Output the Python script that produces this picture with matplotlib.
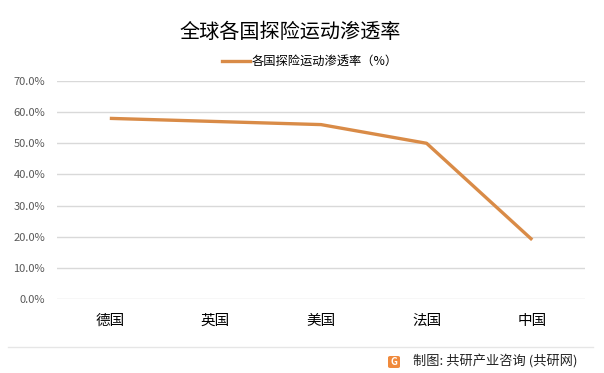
import matplotlib
matplotlib.use("Agg")
import matplotlib.pyplot as plt
from matplotlib.patches import FancyBboxPatch
from matplotlib.lines import Line2D

plt.rcParams['font.family'] = ['Noto Sans CJK SC', 'DejaVu Sans']

countries = ['德国', '英国', '美国', '法国', '中国']
rate = [0.58, 0.57, 0.56, 0.50, 0.19]
yticks = [0.0, 0.1, 0.2, 0.3, 0.4, 0.5, 0.6, 0.7]
ylabels = ['0.0%', '10.0%', '20.0%', '30.0%', '40.0%', '50.0%', '60.0%', '70.0%']
line_color = '#D98B47'

fig = plt.figure(figsize=(6.04, 3.73), dpi=100)
ax = fig.add_axes([57 / 604, 1 - 299 / 373, 528 / 604, 218 / 373])

x = range(len(countries))
ax.plot(x, rate, color=line_color, linewidth=2.4, solid_capstyle='butt', zorder=3)

ax.set_xlim(-0.5, len(countries) - 0.5)
ax.set_ylim(0, 0.7)
ax.set_yticks(yticks)
ax.set_yticklabels(ylabels, fontsize=8, color='#595959')
ax.set_xticks(list(x))
ax.set_xticklabels(countries, fontsize=10.5, color='black')
ax.tick_params(axis='both', length=0)
ax.tick_params(axis='x', pad=11)
ax.tick_params(axis='y', pad=8.5)
ax.grid(axis='y', color='#d9d9d9', linewidth=1)
ax.set_axisbelow(True)
for s in ax.spines.values():
    s.set_visible(False)

# title and legend
fig.text(290 / 604, 1 - 32 / 373, '全球各国探险运动渗透率', fontsize=14.5,
         ha='center', va='center', color='black')
fig.add_artist(Line2D([222 / 604, 250 / 604], [1 - 61 / 373, 1 - 61 / 373],
                      color=line_color, linewidth=2.4))
fig.text(252 / 604, 1 - 61 / 373, '各国探险运动渗透率（%）', fontsize=8.8,
         ha='left', va='center', color='black')

# bottom separator + source
fig.add_artist(Line2D([8 / 604, 593 / 604], [1 - 347 / 373, 1 - 347 / 373],
                      color='#e6e6e6', linewidth=1))
logo = FancyBboxPatch((388 / 604, 1 - 368 / 373), 12 / 604, 12 / 373,
                      boxstyle='round,pad=0,rounding_size=0.004',
                      transform=fig.transFigure, facecolor='#F08A3C',
                      edgecolor='none')
fig.add_artist(logo)
fig.text(394 / 604, 1 - 362 / 373, 'G', fontsize=7, fontweight='bold',
         color='white', ha='center', va='center')
fig.text(413 / 604, 1 - 362 / 373, '制图: 共研产业咨询 (共研网)', fontsize=9.5,
         ha='left', va='center', color='#222222')

fig.savefig('out.png', dpi=100)
